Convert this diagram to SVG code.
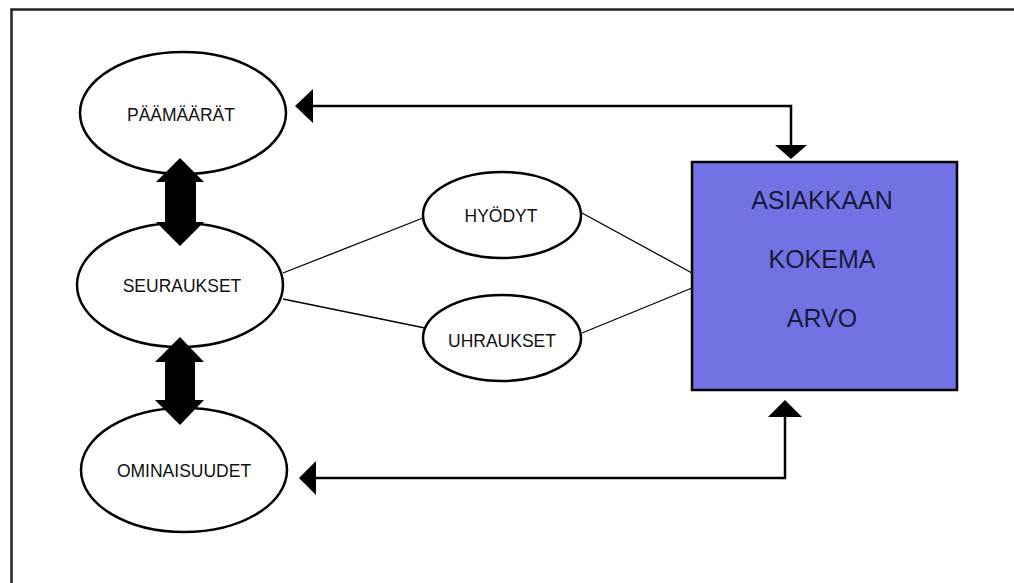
<svg xmlns="http://www.w3.org/2000/svg" width="1014" height="583" viewBox="0 0 1014 583">
  <style>
    .node { fill: #ffffff; stroke: #000000; stroke-width: 2.5; }
    .lbl { font-family: "Liberation Sans", Arial, sans-serif; font-size: 17.5px; fill: #111111; text-anchor: middle; }
    .big { font-family: "Liberation Sans", Arial, sans-serif; font-size: 25px; fill: #1a1a3a; text-anchor: middle; }
    .thin { stroke: #000000; stroke-width: 1.3; fill: none; }
    .wire { stroke: #000000; stroke-width: 2.5; fill: none; }
    .head { fill: #000000; }
  </style>

  <!-- frame -->
  <rect x="0" y="0" width="1014" height="583" fill="#ffffff"/>
  <path d="M11.5 583 V9.5 H1014" fill="none" stroke="#222222" stroke-width="2.5"/>

  <g id="paamaarat">
    <ellipse class="node" cx="183" cy="113" rx="103" ry="61"/>
    <text class="lbl" x="181" y="121">PÄÄMÄÄRÄT</text>
  </g>

  <g id="seuraukset">
    <ellipse class="node" cx="180" cy="285" rx="103" ry="62"/>
    <text class="lbl" x="182" y="292">SEURAUKSET</text>
  </g>

  <g id="ominaisuudet">
    <ellipse class="node" cx="184" cy="470" rx="103" ry="62"/>
    <text class="lbl" x="184" y="477">OMINAISUUDET</text>
  </g>

  <g id="hyodyt">
    <ellipse class="node" cx="502" cy="215" rx="79" ry="43"/>
    <text class="lbl" x="501" y="222">HYÖDYT</text>
  </g>

  <g id="uhraukset">
    <ellipse class="node" cx="502" cy="338" rx="79" ry="43"/>
    <text class="lbl" x="502" y="347">UHRAUKSET</text>
  </g>

  <g id="arvo">
    <rect x="692" y="162" width="265" height="228" fill="#7272e4" stroke="#000000" stroke-width="2.5"/>
    <text class="big" x="822" y="209">ASIAKKAAN</text>
    <text class="big" x="822" y="268">KOKEMA</text>
    <text class="big" x="822" y="327">ARVO</text>
  </g>

  <!-- connectors, drawn over the node outlines -->
  <g id="connectors">
    <!-- thin links -->
    <line class="thin" x1="283" y1="273" x2="423" y2="218"/>
    <line class="thin" x1="283" y1="299" x2="425" y2="328"/>
    <line class="thin" x1="582" y1="213" x2="692" y2="273"/>
    <line class="thin" x1="582" y1="333" x2="692" y2="288"/>

    <!-- goals <-> value -->
    <path class="wire" d="M312 106 H791 V147"/>
    <polygon class="head" points="295,106 313,89 313,123"/>
    <polygon class="head" points="791,159 775,145 807,145"/>

    <!-- attributes <-> value -->
    <path class="wire" d="M315 478 H785 V414"/>
    <polygon class="head" points="299,478 316,461 316,495"/>
    <polygon class="head" points="785,400 768,417 802,417"/>

    <!-- goals <-> consequences -->
    <polygon class="head" points="180,158 156,182 165,182 165,222 156,222 180,246 204,222 196,222 196,182 204,182"/>
    <!-- consequences <-> attributes -->
    <polygon class="head" points="180,337 155,362 165,362 165,400 155,400 180,425 204,400 195,400 195,362 204,362"/>
  </g>
</svg>
